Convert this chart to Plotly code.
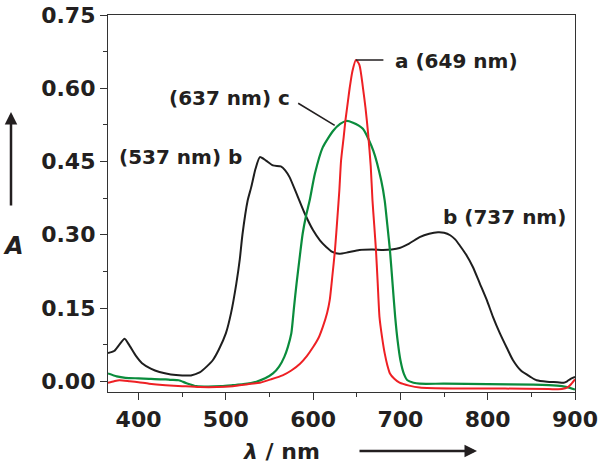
import plotly.graph_objects as go

# ---- data ----
wl_b = [365, 372, 378, 384, 390, 397, 404, 414, 424, 437, 450, 460, 470, 478, 485, 492, 500, 506, 512, 516,
        519, 525, 529, 534, 539, 546, 554, 563, 568, 573, 581, 590, 600, 608, 615, 622, 630, 640, 653, 668,
        680, 690, 699, 710, 722, 733, 743, 750, 757, 763, 768, 775, 783, 791, 799, 806, 814, 822, 829, 838,
        849, 856, 868, 880, 887, 891, 895, 900]
A_b = [0.058, 0.062, 0.075, 0.087, 0.072, 0.052, 0.037, 0.026, 0.019, 0.014, 0.012, 0.012, 0.018, 0.030, 0.043, 0.065, 0.098, 0.140, 0.200, 0.250,
       0.300, 0.370, 0.397, 0.435, 0.459, 0.452, 0.442, 0.440, 0.432, 0.418, 0.384, 0.345, 0.309, 0.288, 0.275, 0.265, 0.261, 0.264, 0.269, 0.270,
       0.269, 0.270, 0.273, 0.282, 0.295, 0.302, 0.305, 0.304, 0.299, 0.290, 0.278, 0.260, 0.234, 0.200, 0.166, 0.132, 0.098, 0.068, 0.043, 0.022,
       0.009, 0.002, -0.001, -0.002, -0.003, 0.000, 0.005, 0.009]

wl_c = [365, 375, 385, 400, 412, 425, 431, 437, 446, 455, 466, 480, 495, 508, 520, 535, 545, 554, 561, 567,
        571, 575, 578, 581, 585, 588, 592, 596, 602, 611, 623, 631, 638, 645, 657, 669, 678, 682, 685, 688,
        691, 694, 697, 700, 704, 708, 715, 722, 750, 800, 852, 870, 885, 891, 900]
A_c = [0.016, 0.010, 0.007, 0.006, 0.005, 0.004, 0.004, 0.003, 0.002, -0.004, -0.010, -0.011, -0.010, -0.008, -0.006, -0.001, 0.006, 0.016, 0.030, 0.050,
       0.070, 0.098, 0.150, 0.200, 0.260, 0.302, 0.340, 0.370, 0.425, 0.479, 0.513, 0.527, 0.533, 0.530, 0.517, 0.472, 0.411, 0.370, 0.320, 0.268,
       0.200, 0.132, 0.080, 0.043, 0.015, 0.002, -0.003, -0.005, -0.005, -0.006, -0.007, -0.008, -0.010, -0.012, -0.017]

wl_a = [365, 372, 378, 390, 400, 412, 431, 450, 470, 490, 508, 525, 539, 552, 565, 575, 585, 593, 600, 606,
        611, 616, 619, 622, 625, 628, 630, 632, 635, 637, 640, 642, 645, 649, 653, 657, 660, 663, 666, 668,
        670, 672, 674, 676, 679, 682, 685, 688, 693, 699, 710, 722, 760, 820, 870, 885, 892, 896, 900]
A_a = [-0.003, 0.000, 0.002, 0.000, -0.002, -0.005, -0.008, -0.010, -0.012, -0.012, -0.010, -0.006, -0.003, 0.004, 0.012, 0.022, 0.036, 0.052, 0.070, 0.088,
       0.111, 0.140, 0.166, 0.215, 0.268, 0.340, 0.390, 0.452, 0.500, 0.534, 0.575, 0.602, 0.635, 0.658, 0.648, 0.602, 0.560, 0.507, 0.440, 0.370,
       0.320, 0.268, 0.200, 0.132, 0.090, 0.057, 0.033, 0.016, 0.005, -0.003, -0.009, -0.013, -0.015, -0.015, -0.016, -0.016, -0.012, -0.005, 0.004]

x_ticks = [400, 500, 600, 700, 800, 900]
y_ticks = [0.00, 0.15, 0.30, 0.45, 0.60, 0.75]
y_tick_text = ["0.00", "0.15", "0.30", "0.45", "0.60", "0.75"]

peak_a = (649, 0.658)
peak_c_pt = (624.7, 0.524)

FONT = "DejaVu Sans"
TXT = "#231f20"

fig = go.Figure()
fig.add_trace(go.Scatter(x=wl_b, y=A_b, mode="lines", line=dict(color="#1e1e1e", width=2, shape="spline", smoothing=0.6), name="b"))
fig.add_trace(go.Scatter(x=wl_c, y=A_c, mode="lines", line=dict(color="#0a8c3c", width=2.2, shape="spline", smoothing=0.6), name="c"))
fig.add_trace(go.Scatter(x=wl_a, y=A_a, mode="lines", line=dict(color="#ee2024", width=2, shape="spline", smoothing=0.6), name="a"))

W, H = 600, 464
L, R, T, B = 108, 25, 15, 72
PW, PH = W - L - R, H - T - B

def px(xp):
    return (xp - L) / PW

def py(yp):
    return (T + PH - yp) / PH

lab_font = dict(family=FONT, size=20, color=TXT, weight="bold")
ann = [
    # leader lines
    dict(x=peak_a[0], y=peak_a[1], xref="x", yref="y", text="", showarrow=True, arrowhead=0,
         arrowwidth=1.6, arrowcolor=TXT, ax=29, ay=0, standoff=0),
    dict(x=peak_c_pt[0], y=peak_c_pt[1], xref="x", yref="y", text="", showarrow=True, arrowhead=0,
         arrowwidth=1.6, arrowcolor=TXT, ax=-38, ay=-23, standoff=0),
    # labels
    dict(x=691, y=0.655, xref="x", yref="y", text="a (649 nm)", showarrow=False, xanchor="left", yanchor="middle", font=lab_font),
    dict(x=576, y=0.581, xref="x", yref="y", text="(637 nm) c", showarrow=False, xanchor="right", yanchor="middle", font=lab_font),
    dict(x=521, y=0.459, xref="x", yref="y", text="(537 nm) b", showarrow=False, xanchor="right", yanchor="middle", font=lab_font),
    dict(x=746, y=0.336, xref="x", yref="y", text="b (737 nm)", showarrow=False, xanchor="left", yanchor="middle", font=lab_font),
    # axis titles
    dict(x=px(13), y=py(246), xref="paper", yref="paper", text="<i>A</i>", showarrow=False,
         xanchor="center", yanchor="middle",
         font=dict(family=FONT, size=24, color=TXT, weight="bold")),
    dict(x=px(281), y=py(451), xref="paper", yref="paper", text="<i>λ</i> / nm", showarrow=False,
         xanchor="center", yanchor="middle",
         font=dict(family=FONT, size=22, color=TXT, weight="bold")),
    # axis arrows
    dict(x=px(477), y=py(451), xref="paper", yref="paper", text="", showarrow=True, arrowhead=2,
         arrowsize=1, arrowwidth=2.5, arrowcolor=TXT, ax=-119, ay=0, standoff=0),
    dict(x=px(11), y=py(112), xref="paper", yref="paper", text="", showarrow=True, arrowhead=2,
         arrowsize=1, arrowwidth=2.5, arrowcolor=TXT, ax=0, ay=95, standoff=0),
]

tick_font = dict(family=FONT, size=22, color=TXT, weight="bold")
fig.update_layout(
    width=W, height=H,
    margin=dict(l=L, r=R, t=T, b=B, autoexpand=False),
    plot_bgcolor="white", paper_bgcolor="white",
    showlegend=False,
    annotations=ann,
    xaxis=dict(range=[365, 900], tickvals=x_ticks, ticks="outside", ticklen=7, tickwidth=1.3, automargin=False,
               ticklabeloverflow="allow",
               tickcolor="#333", showline=True, linecolor="#333", linewidth=1.3, mirror=True,
               showgrid=False, zeroline=False, tickfont=tick_font,
               minor=dict(ticks="outside", ticklen=4, tickwidth=1.2, tickcolor="#333", dtick=50, tick0=400, showgrid=False)),
    yaxis=dict(range=[-0.022, 0.75], tickvals=y_ticks, ticktext=y_tick_text, ticks="outside", ticklen=7, tickwidth=1.3, automargin=False,
               ticklabeloverflow="allow",
               tickcolor="#333", showline=True, linecolor="#333", linewidth=1.3, mirror=True,
               showgrid=False, zeroline=False, tickfont=tick_font,
               minor=dict(ticks="outside", ticklen=4, tickwidth=1.2, tickcolor="#333", dtick=0.075, tick0=0, showgrid=False)),
)

# remove the browser's default 8px body margin so the figure sits at the page origin
fig.write_html("out.html", config={"displayModeBar": False},
               post_script="document.body.style.margin='0';document.body.style.overflow='hidden';")
